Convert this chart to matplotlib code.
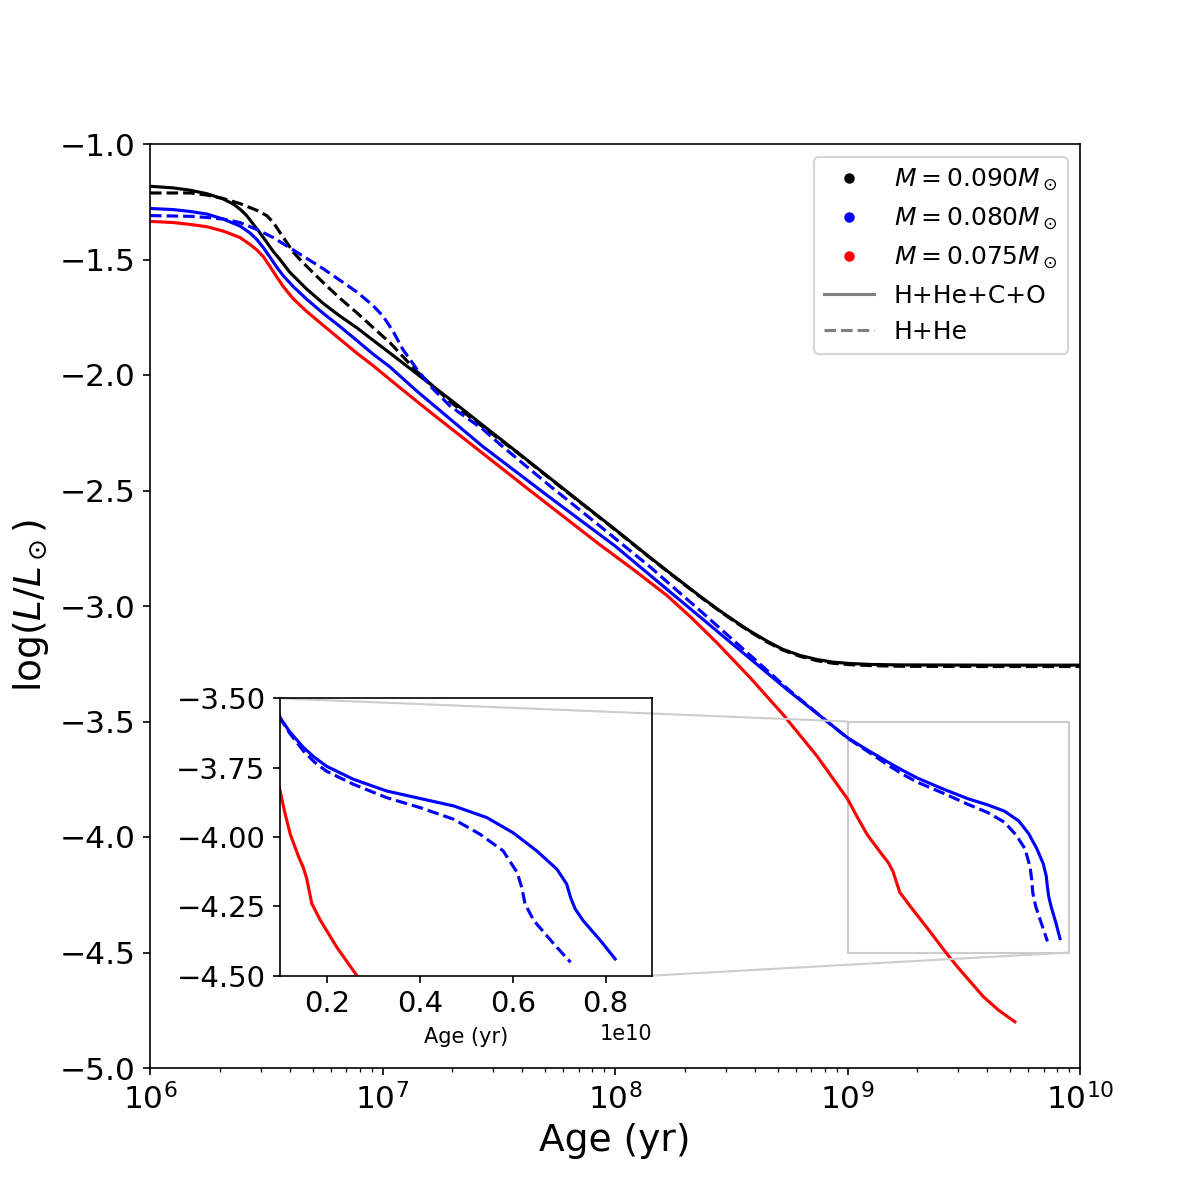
import matplotlib
matplotlib.use("Agg")
import matplotlib.pyplot as plt
import numpy as np
from matplotlib.lines import Line2D
from matplotlib.ticker import ScalarFormatter
from mpl_toolkits.axes_grid1.inset_locator import mark_inset

# log10(age / yr) and log(L/Lsun)
logt_090_full = [6.0, 6.1, 6.172, 6.244, 6.315, 6.358, 6.387, 6.416, 6.444, 6.473, 6.502,
                 6.530, 6.559, 6.602, 6.674, 6.745, 6.817, 6.889, 6.96, 7.032, 7.148,
                 7.29, 7.432, 7.578, 7.819, 8.0, 8.151, 8.25, 8.366, 8.45, 8.508, 8.58,
                 8.654, 8.72, 8.796, 8.87, 8.938, 9.011, 9.1, 9.226, 9.6, 10.0]
logL_090_full = [-1.183, -1.19, -1.200, -1.215, -1.238, -1.26, -1.282, -1.31, -1.347, -1.385, -1.425,
                 -1.465, -1.50, -1.556, -1.628, -1.69, -1.745, -1.795, -1.85, -1.905, -1.995,
                 -2.105, -2.218, -2.333, -2.525, -2.668, -2.79, -2.868, -2.958, -3.02, -3.06, -3.108,
                 -3.152, -3.187, -3.214, -3.232, -3.243, -3.249, -3.253, -3.255, -3.256, -3.256]

logt_090_hhe = [6.0, 6.172, 6.244, 6.315, 6.387, 6.459, 6.502, 6.53, 6.559, 6.588, 6.616,
                6.645, 6.674, 6.745, 6.817, 6.889, 6.96, 7.032, 7.148, 7.29, 7.432, 7.578,
                7.819, 8.0, 8.151, 8.25, 8.366, 8.45, 8.508, 8.58, 8.654, 8.72, 8.796,
                8.87, 8.938, 9.011, 9.1, 9.226, 9.6, 10.0]
logL_090_hhe = [-1.212, -1.212, -1.221, -1.236, -1.258, -1.287, -1.31, -1.339, -1.383, -1.426, -1.468,
                -1.50, -1.53, -1.60, -1.668, -1.73, -1.795, -1.86, -1.985, -2.115, -2.225, -2.335,
                -2.527, -2.67, -2.792, -2.87, -2.96, -3.022, -3.063, -3.111, -3.156, -3.19, -3.218,
                -3.237, -3.248, -3.254, -3.258, -3.261, -3.262, -3.262]

logt_080_full = [6.0, 6.1, 6.172, 6.244, 6.315, 6.387, 6.43, 6.459, 6.487, 6.516, 6.545,
                 6.573, 6.616, 6.674, 6.745, 6.817, 6.889, 6.96, 7.032, 7.148, 7.29, 7.432,
                 7.72, 8.0, 8.25, 8.5, 8.75, 9.0, 9.08, 9.176, 9.24, 9.301, 9.411, 9.517,
                 9.603, 9.675, 9.736, 9.779, 9.814, 9.842, 9.855, 9.860, 9.866, 9.876,
                 9.897, 9.914]
logL_080_full = [-1.279, -1.284, -1.292, -1.303, -1.325, -1.355, -1.385, -1.413, -1.448, -1.49, -1.533,
                 -1.57, -1.617, -1.672, -1.733, -1.79, -1.85, -1.91, -1.965, -2.07, -2.19, -2.31,
                 -2.53, -2.74, -2.95, -3.16, -3.37, -3.57, -3.62, -3.677, -3.713, -3.745, -3.792, -3.834,
                 -3.861, -3.888, -3.93, -3.985, -4.05, -4.116, -4.17, -4.218, -4.26, -4.302,
                 -4.374, -4.44]

logt_080_hhe = [6.0, 6.172, 6.244, 6.315, 6.387, 6.459, 6.53, 6.602, 6.674, 6.745, 6.817,
                6.889, 6.96, 7.002, 7.045, 7.088, 7.148, 7.217, 7.29, 7.432, 7.505, 7.72,
                7.935, 8.15, 8.366, 8.5, 8.75, 9.0, 9.08, 9.176, 9.24, 9.301, 9.411, 9.517,
                9.603, 9.675, 9.724, 9.763, 9.785, 9.792, 9.797, 9.810, 9.838, 9.860]
logL_080_hhe = [-1.31, -1.313, -1.318, -1.325, -1.34, -1.37, -1.405, -1.45, -1.495, -1.54, -1.59,
                -1.64, -1.70, -1.745, -1.81, -1.89, -1.975, -2.06, -2.134, -2.235, -2.30, -2.48,
                -2.654, -2.83, -3.02, -3.14, -3.365, -3.572, -3.625, -3.69, -3.73, -3.763, -3.81, -3.858,
                -3.894, -3.936, -3.99, -4.05, -4.128, -4.182, -4.242, -4.302, -4.386, -4.452]

logt_075 = [6.0, 6.1, 6.172, 6.244, 6.315, 6.387, 6.43, 6.459, 6.487, 6.516, 6.545,
            6.573, 6.616, 6.674, 6.745, 6.817, 6.889, 6.96, 7.075, 7.217, 7.432, 7.647,
            7.935, 8.08, 8.224, 8.33, 8.439, 8.581, 8.723, 8.869, 9.0, 9.04, 9.085, 9.144,
            9.175, 9.196, 9.225, 9.27, 9.346, 9.423, 9.471, 9.583, 9.65, 9.72]
logL_075 = [-1.335, -1.34, -1.348, -1.358, -1.377, -1.405, -1.435, -1.458, -1.487, -1.53, -1.575,
            -1.617, -1.67, -1.725, -1.785, -1.845, -1.905, -1.96, -2.055, -2.17, -2.34, -2.51,
            -2.735, -2.843, -2.955, -3.052, -3.16, -3.31, -3.47, -3.65, -3.835, -3.91, -3.99, -4.07,
            -4.11, -4.15, -4.24, -4.30, -4.398, -4.50, -4.56, -4.69, -4.75, -4.80]

curves = [
    (logt_090_full, logL_090_full, 'k', '-'),
    (logt_090_hhe, logL_090_hhe, 'k', '--'),
    (logt_080_full, logL_080_full, 'b', '-'),
    (logt_080_hhe, logL_080_hhe, 'b', '--'),
    (logt_075, logL_075, 'r', '-'),
]

fig = plt.figure(figsize=(8, 8), dpi=150)
ax = fig.add_subplot(111)

for logt, logL, c, ls in curves:
    ax.plot(10 ** np.array(logt), logL, color=c, ls=ls, lw=1.5)

ax.set_xscale('log')
ax.set_xlim(1e6, 1e10)
ax.set_ylim(-5.0, -1.0)
ax.set_xlabel('Age (yr)', fontsize=18)
ax.set_ylabel(r'log($L/L_\odot$)', fontsize=18)
ax.tick_params(labelsize=15)

handles = [
    Line2D([], [], marker='o', ls='', color='k', ms=4, label=r'$M=0.090M_\odot$'),
    Line2D([], [], marker='o', ls='', color='b', ms=4, label=r'$M=0.080M_\odot$'),
    Line2D([], [], marker='o', ls='', color='r', ms=4, label=r'$M=0.075M_\odot$'),
    Line2D([], [], color='gray', ls='-', lw=1.5, label='H+He+C+O'),
    Line2D([], [], color='gray', ls='--', lw=1.5, label='H+He'),
]
ax.legend(handles=handles, loc='upper right', fontsize=12)

# zoomed inset, linear age axis
axins = ax.inset_axes([0.14, 0.1, 0.4, 0.3])
for logt, logL, c, ls in curves:
    axins.plot(10 ** np.array(logt), logL, color=c, ls=ls, lw=1.5)
axins.set_xlim(1e9, 9e9)
axins.set_ylim(-4.5, -3.5)
axins.set_xticks([2e9, 4e9, 6e9, 8e9])
axins.set_yticks([-3.5, -3.75, -4.0, -4.25, -4.5])
fmt = ScalarFormatter()
fmt.set_powerlimits((10, 10))
axins.xaxis.set_major_formatter(fmt)
axins.tick_params(labelsize=14)
axins.xaxis.get_offset_text().set_fontsize(10)
axins.set_xlabel('Age (yr)', fontsize=10)

mark_inset(ax, axins, loc1=2, loc2=4, fc='none', ec='0.8')

fig.savefig('out.png', dpi=150)
